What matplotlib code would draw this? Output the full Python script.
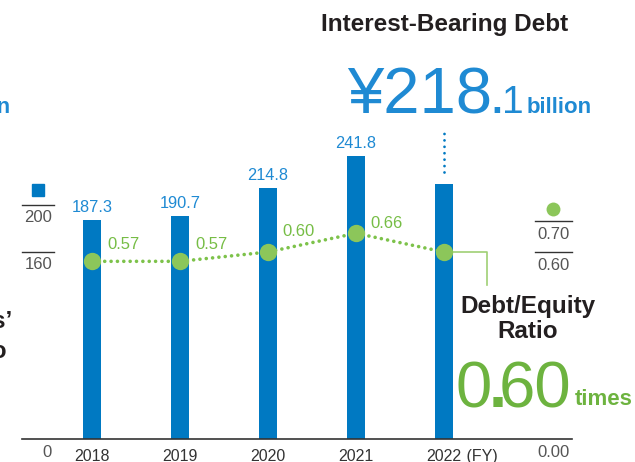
import matplotlib
matplotlib.use('Agg')
import numpy as np
from matplotlib import pyplot as plt

plt.rcParams['font.family'] = ['Liberation Sans', 'DejaVu Sans']

# Data:

years = ['2018', '2019', '2020', '2021', '2022']
debt = [187.3, 190.7, 214.8, 241.8, 218.1]          # billion yen
ratio = [0.57, 0.57, 0.60, 0.66, 0.60]              # debt/equity ratio (times)
ratio_labels = ['0.57', '0.57', '0.60', '0.66']
left_ticks = [160, 200]
right_ticks = [0.60, 0.70]

BLUE = '#0079c2'
BLUE_TXT = '#1f8ad3'
GREEN = '#8cc65a'
GREEN_LINE = '#7dc24a'
GREEN_TXT = '#76bd45'
GREEN_BIG = '#6db33f'
DARK = '#231f20'
GRAY = '#555555'

W, H = 635, 462


def fx(px):
    return px / W


def fy(py):
    return 1 - py / H


fig = plt.figure(figsize=(W / 100, H / 100), dpi=100)

# main axes: category spacing 88 px, first bar at x=92 px, baseline at y=439 px
ax = fig.add_axes([0, 0, 1, 1])
ax.set_xlim(-92 / 88, (W - 92) / 88)
ax.set_ylim(-(H - 439) / 1.17, 439 / 1.17)
ax.axis('off')

ax2 = ax.twinx()
ax2.set_ylim(-(H - 439) / 311.7, 439 / 311.7)
ax2.axis('off')

x = np.arange(len(years))

ax.bar(x, debt, width=0.2, color=BLUE, zorder=2)
for xi, v in zip(x, debt[:-1]):
    ax.annotate('%.1f' % v, (xi, v), xytext=(0, 9), textcoords='offset points',
                ha='center', va='center', fontsize=11.8, color=BLUE_TXT)

# dotted pointer above the latest bar
ax.plot([x[-1], x[-1]], [debt[-1] + 10, debt[-1] + 45], color=BLUE, lw=2,
        linestyle=(0, (0.01, 2.3)), dash_capstyle='round')

# base line
ax.plot([-0.8, 5.45], [0, 0], color='#333333', lw=1.2, zorder=3)

# left scale
for t in left_ticks:
    ax.plot([-0.795, -0.432], [t, t], color='#333333', lw=1)
    ax.annotate(str(t), (-0.61, t), xytext=(0, -9), textcoords='offset points',
                ha='center', va='center', fontsize=12, color=GRAY)
ax.annotate('0', (-0.51, 0), xytext=(0, -9.5), textcoords='offset points',
            ha='center', va='center', fontsize=12, color=GRAY)
ax.plot([-0.61], [left_ticks[-1] + 13], marker='s', ms=8.5, color=BLUE, ls='none')

# ratio line
ax2.plot(x, ratio, color=GREEN_LINE, lw=2.6, linestyle=(0, (0.01, 1.75)),
         dash_capstyle='round', zorder=4)
ax2.plot(x, ratio, 'o', color=GREEN, ms=12.5, mec='none', zorder=5)
offsets = [(11, 12), (11, 12), (10, 15), (10, 7)]
for xi, v, lab, off in zip(x, ratio, ratio_labels, offsets):
    ax2.annotate(lab, (xi, v), xytext=off, textcoords='offset points',
                 ha='left', va='center', fontsize=12, color=GREEN_TXT)

# leader to the ratio callout
ax2.plot([x[-1], x[-1] + 0.49, x[-1] + 0.49], [ratio[-1], ratio[-1], 0.494],
         color='#9fd074', lw=1.2, zorder=3)

# right scale
for t in right_ticks:
    ax2.plot([5.03, 5.45], [t, t], color='#333333', lw=1)
    ax2.annotate('%.2f' % t, (5.24, t), xytext=(0, -10), textcoords='offset points',
                 ha='center', va='center', fontsize=12, color=GRAY)
ax2.annotate('0.00', (5.24, 0), xytext=(0, -9.5), textcoords='offset points',
             ha='center', va='center', fontsize=12, color=GRAY)
ax2.plot([5.24], [right_ticks[-1] + 0.037], 'o', ms=10, color=GREEN, mec='none')

# year labels
for xi, yr in zip(x, years):
    ax.annotate(yr, (xi, 0), xytext=(0, -12.5), textcoords='offset points',
                ha='center', va='center', fontsize=11.5, color='#333333')
ax.annotate(' (FY)', (x[-1] + 0.2, 0), xytext=(0, -12.5), textcoords='offset points',
            ha='left', va='center', fontsize=11.5, color='#333333')

# headline texts
fig.text(fx(445), fy(24), 'Interest-Bearing Debt', ha='center', va='center',
         fontsize=17.5, fontweight='bold', color=DARK)
fig.text(fx(492), fy(113), '\u00a5218', ha='right', va='baseline',
         fontsize=47, color=BLUE_TXT)
fig.text(fx(491), fy(113), '.', ha='left', va='baseline',
         fontsize=28, fontweight='bold', color=BLUE_TXT)
fig.text(fx(502), fy(113), '1', ha='left', va='baseline',
         fontsize=28, color=BLUE_TXT)
fig.text(fx(527), fy(113), 'billion', ha='left', va='baseline',
         fontsize=16, fontweight='bold', color=BLUE_TXT)

fig.text(fx(528), fy(307), 'Debt/Equity', ha='center', va='center',
         fontsize=17.5, fontweight='bold', color=DARK)
fig.text(fx(528), fy(332), 'Ratio', ha='center', va='center',
         fontsize=17.5, fontweight='bold', color=DARK)
fig.text(fx(456), fy(407), '0', ha='left', va='baseline', fontsize=47, color=GREEN_BIG)
fig.text(fx(489), fy(407), '.', ha='left', va='baseline', fontsize=47,
         fontweight='bold', color=GREEN_BIG)
fig.text(fx(499), fy(407), '60', ha='left', va='baseline', fontsize=47, color=GREEN_BIG)
fig.text(fx(575), fy(405), 'times', ha='left', va='baseline',
         fontsize=16, fontweight='bold', color=GREEN_BIG)

# texts cut off at the left edge
fig.text(fx(11), fy(113), 'billion', ha='right', va='baseline',
         fontsize=16, fontweight='bold', color=BLUE_TXT)
fig.text(fx(13), fy(322), 'Shareholders\u2019', ha='right', va='center',
         fontsize=17.5, fontweight='bold', color=DARK)
fig.text(fx(7), fy(351), 'Ratio', ha='right', va='center',
         fontsize=17.5, fontweight='bold', color=DARK)

plt.savefig('out.png', dpi=100)
